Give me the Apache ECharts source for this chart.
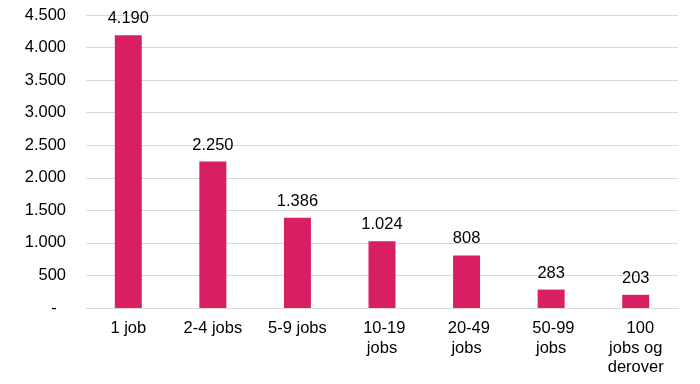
<!DOCTYPE html>
<html><head><meta charset="utf-8">
<script src="https://cdn.jsdelivr.net/npm/echarts@6/dist/echarts.min.js"></script>
<style>html,body{margin:0;padding:0;background:#fff}#c{width:700px;height:384px}</style>
</head><body><div id="c"></div>
<script>
var categories = ["1 job", "2-4 jobs", "5-9 jobs", " 10-19\njobs", " 20-49\njobs", " 50-99\njobs", "  100\njobs og\nderover"];
var values = [4190, 2250, 1386, 1024, 808, 283, 203];
var yTicks = [0, 500, 1000, 1500, 2000, 2500, 3000, 3500, 4000, 4500];

function fmt(v){ if (v === 0) return "-  "; return String(v).replace(/\B(?=(\d{3})+(?!\d))/g, "."); }

var chart = echarts.init(document.getElementById('c'), null, {renderer:'canvas'});
chart.setOption({
  animation: false,
  textStyle: {fontFamily: 'Liberation Sans, Arial, sans-serif'},
  grid: {left: 86, right: 22, top: 15, bottom: 76, containLabel: false},
  xAxis: {
    type: 'category', data: categories,
    axisLine: {show: true, lineStyle: {color: '#d9d9d9', width: 1}},
    axisTick: {show: false},
    axisLabel: {color: '#000', fontSize: 16.5, margin: 11, lineHeight: 19.5, interval: 0}
  },
  yAxis: {
    type: 'value', min: yTicks[0], max: yTicks[yTicks.length-1], interval: 500,
    axisLine: {show: false}, axisTick: {show: false},
    splitLine: {lineStyle: {color: '#d9d9d9', width: 1}},
    axisLabel: {color: '#000', fontSize: 16.5, margin: 20, formatter: fmt}
  },
  series: [{
    type: 'bar', data: values, barWidth: 27,
    itemStyle: {color: '#D81F64'},
    label: {show: true, position: 'top', distance: 8, color: '#000', fontSize: 16.5, formatter: function(p){return fmt(p.value);}}
  }]
});
</script></body></html>
